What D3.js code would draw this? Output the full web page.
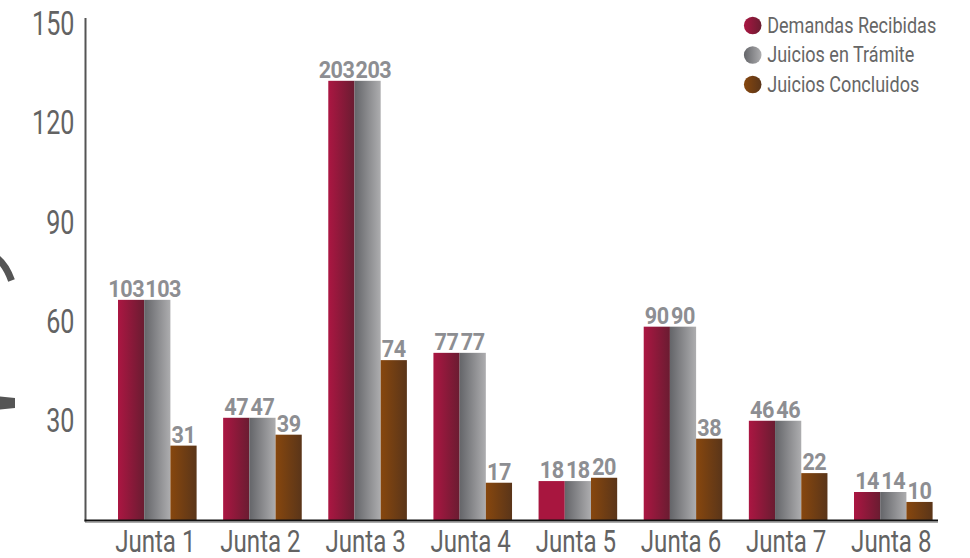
<!DOCTYPE html>
<html>
<head>
<meta charset="utf-8">
<script src="https://cdn.jsdelivr.net/npm/d3@7"></script>
<style>
  html, body { margin: 0; padding: 0; background: #fff; }
  svg { display: block; font-family: Roboto, "Open Sans", sans-serif; }
</style>
</head>
<body>
<script>
// Chart data
const juntas = ["Junta 1", "Junta 2", "Junta 3", "Junta 4", "Junta 5", "Junta 6", "Junta 7", "Junta 8"];
const series = ["Demandas Recibidas", "Juicios en Trámite", "Juicios Concluidos"];
// values printed above the bars
const demandasLabel = [103, 47, 203, 77, 18, 90, 46, 14];
const tramiteLabel = [103, 47, 203, 77, 18, 90, 46, 14];
const concluidosLabel = [31, 39, 74, 17, 20, 38, 22, 10];
// bar heights as drawn against the axis
const demandasHeight = [66.6, 31.0, 132.7, 50.6, 11.9, 58.5, 30.1, 8.6];
const tramiteHeight = [66.6, 31.0, 132.7, 50.6, 11.9, 58.5, 30.1, 8.6];
const concluidosHeight = [22.6, 25.9, 48.4, 11.4, 12.9, 24.7, 14.3, 5.6];
const yTicks = [30, 60, 90, 120, 150];

(function () {
  const W = 970, H = 558;
  const labels = [demandasLabel, tramiteLabel, concluidosLabel];
  const heights = [demandasHeight, tramiteHeight, concluidosHeight];

  // gradient stops per series (left -> right)
  const grads = [["#ab1642", "#6a1c31"], ["#646569", "#adadaf"], ["#87470e", "#5a3519"]];
  const flatDemandas = "#a8163f"; // Junta 5 first bar is flat in the original

  const svg = d3.select("body").append("svg")
      .attr("width", W)
      .attr("height", H);

  const defs = svg.append("defs");
  grads.forEach((g, i) => {
    const lg = defs.append("linearGradient")
        .attr("id", "grad" + i)
        .attr("x1", 0).attr("y1", 0).attr("x2", 1).attr("y2", 0);
    lg.append("stop").attr("offset", "0%").attr("stop-color", g[0]);
    lg.append("stop").attr("offset", "100%").attr("stop-color", g[1]);
  });

  // Scales
  const x = d3.scaleBand().domain(juntas).range([118, 932.6]).paddingInner(0.2524).paddingOuter(0);
  const xs = d3.scaleBand().domain(series).range([0, x.bandwidth()]);
  const y = d3.scaleLinear().domain([0, 150]).range([520.5, 23.5]);

  // decorative cut-off glyph at the far left
  svg.append("path")
      .attr("d", "M-3,258 Q6,265 11.5,280.5")
      .attr("fill", "none")
      .attr("stroke", "#555")
      .attr("stroke-width", 7);
  svg.append("path")
      .attr("d", "M0,396.5 L15,398 L15,408 L0,409.5 Z")
      .attr("fill", "#555");

  // Bars
  juntas.forEach((j, i) => {
    series.forEach((s, k) => {
      const v = heights[k][i];
      svg.append("rect")
          .attr("x", x(j) + xs(s))
          .attr("y", y(v))
          .attr("width", xs.bandwidth())
          .attr("height", y(0) - y(v))
          .attr("fill", (k === 0 && j === "Junta 5") ? flatDemandas : `url(#grad${k})`);
    });
  });

  // Value labels
  const valSx = 0.92;
  juntas.forEach((j, i) => {
    series.forEach((s, k) => {
      const left = x(j) + xs(s), bw = xs.bandwidth();
      const t = svg.append("text")
          .attr("text-anchor", "middle")
          .style("font-size", "23.5px")
          .style("font-weight", 700)
          .style("letter-spacing", "-0.5px")
          .attr("fill", "#8d8e92")
          .text(labels[k][i]);
      const w = t.node().getComputedTextLength() * valSx;
      let cx = left + bw / 2;
      if (w > bw) {
        if (k === 0) cx = left + bw - w / 2;      // push left
        else if (k === 1) cx = left + w / 2 + 1;   // push right
      }
      t.attr("transform", `translate(${cx},${y(heights[k][i]) - 3}) scale(${valSx},1)`);
    });
  });

  // Y axis
  const tickSx = 0.74;
  const yAxis = svg.append("g")
      .attr("transform", "translate(85.5,0)")
      .call(d3.axisLeft(y).tickValues(yTicks).tickSize(0).tickPadding(15));
  yAxis.select(".domain").remove();
  yAxis.selectAll(".tick text")
      .style("font-family", "Roboto, sans-serif")
      .style("font-size", "34px")
      .style("font-weight", 400)
      .attr("fill", "#636363")
      .attr("transform", `scale(${tickSx},1)`);
  svg.append("line")
      .attr("x1", 85.5).attr("x2", 85.5)
      .attr("y1", 18).attr("y2", 521.5)
      .attr("stroke", "#555")
      .attr("stroke-width", 2);

  // X axis
  svg.append("line")
      .attr("x1", 85).attr("x2", 938)
      .attr("y1", 522.5).attr("y2", 522.5)
      .attr("stroke", "#aaa")
      .attr("stroke-width", 1);
  svg.append("line")
      .attr("x1", 84.5).attr("x2", 938)
      .attr("y1", 520.5).attr("y2", 520.5)
      .attr("stroke", "#111")
      .attr("stroke-width", 2);

  const xLabSx = 0.79;
  svg.selectAll(".xlab")
      .data(juntas)
      .join("text")
      .attr("class", "xlab")
      .attr("text-anchor", "middle")
      .attr("transform", d => `translate(${x(d) + x.bandwidth() / 2 - 2},551.5) scale(${xLabSx},1)`)
      .style("font-size", "30.5px")
      .style("font-weight", 400)
      .attr("fill", "#636363")
      .text(d => d);

  // Legend
  const legSx = 0.82;
  const legend = svg.append("g").attr("transform", "translate(752.7,0)");
  series.forEach((s, k) => {
    const cy = 25.5 + k * 29.5;
    legend.append("circle")
        .attr("cx", 0).attr("cy", cy).attr("r", 8.8)
        .attr("fill", `url(#grad${k})`);
    legend.append("text")
        .attr("transform", `translate(14.5,${cy + 7}) scale(${legSx},1)`)
        .style("font-size", "22px")
        .style("font-weight", 400)
        .attr("fill", "#666")
        .text(s);
  });
})();
</script>
</body>
</html>
